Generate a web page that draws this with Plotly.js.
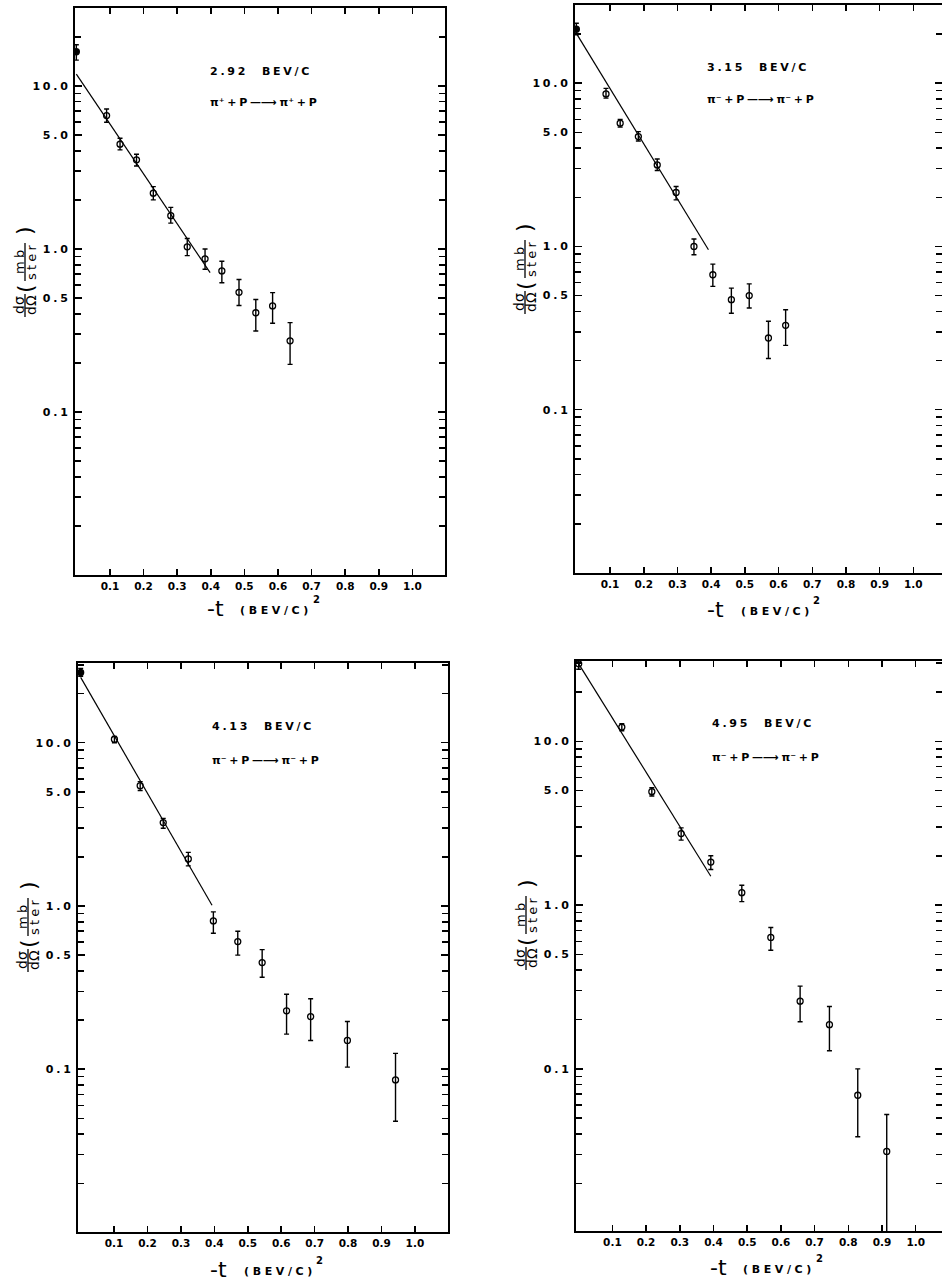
<!DOCTYPE html>
<html>
<head>
<meta charset="utf-8">
<script src="https://cdn.plot.ly/plotly-3.0.1.min.js"></script>
<style>html,body{margin:0;padding:0;background:#fff;}#chart{width:942px;height:1281px;}</style>
</head>
<body>
<div id="chart"></div>
<script>
// ---------------- DATA ----------------
// Panel 1: 2.92 BEV/C, pi+ + p -> pi+ + p
const t1  = [0, 0.090, 0.130, 0.179, 0.229, 0.281, 0.330, 0.383, 0.433, 0.484, 0.534, 0.584, 0.636];
const y1  = [16.2, 6.58, 4.39, 3.52, 2.20, 1.60, 1.03, 0.87, 0.733, 0.542, 0.406, 0.447, 0.273];
const hi1 = [17.9, 7.22, 4.78, 3.81, 2.41, 1.80, 1.16, 1.00, 0.84, 0.65, 0.49, 0.54, 0.353];
const lo1 = [14.4, 5.99, 4.05, 3.23, 2.00, 1.44, 0.91, 0.75, 0.62, 0.45, 0.314, 0.35, 0.196];
const fitT1 = [0, 0.398];
const fitY1 = [11.8, 0.716];

// Panel 2: 3.15 BEV/C, pi- + p -> pi- + p
const t2  = [0, 0.088, 0.130, 0.184, 0.240, 0.296, 0.349, 0.405, 0.460, 0.513, 0.570, 0.621];
const y2  = [21.4, 8.6, 5.69, 4.71, 3.16, 2.14, 1.00, 0.671, 0.472, 0.50, 0.275, 0.329];
const hi2 = [23.3, 9.3, 6.0, 5.05, 3.43, 2.33, 1.11, 0.78, 0.556, 0.59, 0.348, 0.41];
const lo2 = [19.8, 8.1, 5.38, 4.43, 2.92, 1.93, 0.89, 0.57, 0.39, 0.42, 0.206, 0.248];
const fitT2 = [0, 0.392];
const fitY2 = [20.2, 0.955];

// Panel 3: 4.13 BEV/C, pi- + p -> pi- + p
const t3  = [0, 0.101, 0.178, 0.247, 0.322, 0.397, 0.470, 0.543, 0.616, 0.688, 0.798, 0.942];
const y3  = [26.9, 10.5, 5.45, 3.24, 1.94, 0.81, 0.605, 0.45, 0.228, 0.21, 0.15, 0.086];
const hi3 = [28.5, 10.9, 5.77, 3.44, 2.13, 0.92, 0.70, 0.54, 0.288, 0.27, 0.196, 0.125];
const lo3 = [25.5, 9.99, 5.09, 2.99, 1.76, 0.68, 0.50, 0.366, 0.164, 0.15, 0.103, 0.048];
const fitT3 = [0, 0.393];
const fitY3 = [25.1, 1.01];

// Panel 4: 4.95 BEV/C, pi- + p -> pi- + p
const t4  = [0, 0.128, 0.217, 0.304, 0.392, 0.484, 0.570, 0.657, 0.744, 0.828, 0.914];
const y4  = [29.7, 12.2, 4.92, 2.73, 1.83, 1.19, 0.634, 0.259, 0.186, 0.069, 0.0313];
const hi4 = [32.9, 12.8, 5.2, 2.96, 2.0, 1.32, 0.73, 0.32, 0.24, 0.10, 0.0526];
const lo4 = [27.5, 11.6, 4.63, 2.49, 1.65, 1.05, 0.53, 0.194, 0.129, 0.0385, 0.005];
const fitT4 = [0, 0.392];
const fitY4 = [29.7, 1.50];

const momenta   = ["2.92", "3.15", "4.13", "4.95"];
const reactions = [["⁺", "⁺"], ["⁻", "⁻"], ["⁻", "⁻"], ["⁻", "⁻"]];

const xTickVals = [0.1, 0.2, 0.3, 0.4, 0.5, 0.6, 0.7, 0.8, 0.9, 1.0];
const xTickText = ["0.1", "0.2", "0.3", "0.4", "0.5", "0.6", "0.7", "0.8", "0.9", "1.0"];
const yLabelVals = [0.1, 0.5, 1, 5, 10];
const yLabelText = ["0.1", "0.5", "1.0", "5.0", "10.0"];
const yMinorMultipliers = [1, 2, 3, 4, 5, 6, 7, 8, 9];
const yDecades = [0.01, 0.1, 1, 10];

// ---------------- LAYOUT GEOMETRY ----------------
const W = 942, H = 1281;
const px = x => x / W;
const py = y => 1 - y / H;
const panels = [
  {left: 75,  right: 445, top: 8,   bottom: 575,  xr: [-0.004, 1.097], yr: [-2.0, 1.478], filled: true,  tdy: 34},
  {left: 575, right: 942, top: 5,   bottom: 573,  xr: [-0.004, 1.085], yr: [-2.0, 1.479], filled: true,  tdy: 37},
  {left: 78,  right: 448, top: 663, bottom: 1232, xr: [-0.008, 1.099], yr: [-1.997, 1.488], filled: true, tdy: 38},
  {left: 576, right: 942, top: 661, bottom: 1231, xr: [-0.008, 1.078], yr: [-1.99, 1.49], filled: false, tdy: 37}
];
const labelPos = [[208, 72, 103], [705, 67, 100], [210, 726, 760], [710, 723, 757]];
const sets = [
  {t: t1, y: y1, hi: hi1, lo: lo1, ft: fitT1, fy: fitY1},
  {t: t2, y: y2, hi: hi2, lo: lo2, ft: fitT2, fy: fitY2},
  {t: t3, y: y3, hi: hi3, lo: lo3, ft: fitT3, fy: fitY3},
  {t: t4, y: y4, hi: hi4, lo: lo4, ft: fitT4, fy: fitY4}
];

const SP = '\u2005';
const spaced = (s, sp) => s.split('').join(sp || SP);
const FONT = 'DejaVu Sans';
const BOLD = size => ({family: FONT, size: size, weight: 700, color: '#000'});

// minor (unlabelled) y ticks: every integer multiple within each decade
const yMinorVals = [];
yDecades.forEach(d => yMinorMultipliers.forEach(m => {
  const v = +(d * m).toPrecision(3);
  if (v <= 30 && !yLabelVals.some(u => Math.abs(u - v) < 1e-9)) yMinorVals.push(v);
}));

const data = [];
const layout = {
  width: W, height: H,
  margin: {l: 0, r: 0, t: 0, b: 0},
  paper_bgcolor: '#fff', plot_bgcolor: '#fff',
  showlegend: false,
  font: {family: FONT, color: '#000', size: 11},
  annotations: [], shapes: []
};

const ann = (x, y, txt, size, opts) => layout.annotations.push(Object.assign({
  xref: 'paper', yref: 'paper', x: px(x), y: py(y), xanchor: 'center', yanchor: 'middle',
  text: txt, showarrow: false, font: {family: FONT, size: size, color: '#000'}
}, opts || {}));

panels.forEach((p, i) => {
  const n = i + 1;
  const xa = n === 1 ? 'x' : 'x' + n;
  const ya = n === 1 ? 'y' : 'y' + n;
  const s = sets[i];

  layout[n === 1 ? 'xaxis' : 'xaxis' + n] = {
    domain: [px(p.left), px(p.right)], anchor: ya, range: p.xr,
    showgrid: false, zeroline: false, showline: true, linecolor: '#000', linewidth: 2, mirror: 'ticks',
    ticks: 'inside', ticklen: 6, tickwidth: 1.5, tickcolor: '#000',
    tickmode: 'array', tickvals: xTickVals, ticktext: xTickText,
    tickfont: BOLD(10.5),
    ticklabelstandoff: 0
  };
  layout[n === 1 ? 'yaxis' : 'yaxis' + n] = {
    domain: [py(p.bottom), py(p.top)], anchor: xa, type: 'log', range: p.yr,
    showgrid: false, zeroline: false, showline: true, linecolor: '#000', linewidth: 2, mirror: 'ticks',
    ticks: 'inside', ticklen: 7, tickwidth: 1.5, tickcolor: '#000',
    tickmode: 'array', tickvals: yLabelVals, ticktext: yLabelText.map(t => spaced(t)),
    tickfont: BOLD(11),
    ticklabelstandoff: 3,
    minor: {tickmode: 'array', tickvals: yMinorVals, ticks: 'inside', ticklen: 6, tickwidth: 1.5, tickcolor: '#000', showgrid: false}
  };

  // fit line
  data.push({
    type: 'scatter', mode: 'lines', x: s.ft, y: s.fy, xaxis: xa, yaxis: ya,
    line: {color: '#000', width: 1.2}, hoverinfo: 'skip'
  });
  // data points
  data.push({
    type: 'scatter', mode: 'markers', x: s.t, y: s.y, xaxis: xa, yaxis: ya,
    marker: {
      size: 6, color: '#000',
      symbol: s.t.map((v, k) => (k === 0 && p.filled) ? 'circle' : 'circle-open'),
      line: {color: '#000', width: 1.3}
    },
    error_y: {
      type: 'data', symmetric: false,
      array: s.hi.map((h, k) => h - s.y[k]),
      arrayminus: s.lo.map((l, k) => s.y[k] - l),
      color: '#000', thickness: 1.4, width: 2.5
    }
  });

  // energy & reaction labels
  const [lx, ly1, ly2] = labelPos[i];
  const sg = reactions[i];
  ann(lx, ly1, spaced(momenta[i]) + '\u2003\u2002' + spaced('BEV/C'), 11, {xanchor: 'left', font: BOLD(11)});
  ann(lx, ly2, 'π' + sg[0] + SP + '+' + SP + 'P' + SP + '—⟶' + SP + 'π' + sg[1] + SP + '+' + SP + 'P', 11,
      {xanchor: 'left', font: BOLD(11)});

  // x-axis title: -t (BEV/C)^2
  const cx = p.left + (0.55 - p.xr[0]) * (p.right - p.left) / (p.xr[1] - p.xr[0]);
  ann(cx - 46, p.bottom + p.tdy - 1, '-t', 22);
  ann(cx + 13, p.bottom + p.tdy + 1, spaced('(BEV/C)', '\u2004'), 11, {font: BOLD(11)});
  ann(cx + 55, p.bottom + p.tdy - 10, '2', 10, {font: BOLD(10)});

  // y-axis title: d(sigma)/d(Omega) (mb/ster), rotated
  const L = p.left, T = p.top;
  const rot = (x, y, txt, size) => ann(x, y, txt, size, {textangle: -90});
  rot(L - 56, T + 297, 'dσ', 14);
  rot(L - 44, T + 297, 'dΩ', 14);
  rot(L - 56, T + 254, spaced('mb'), 13);
  rot(L - 44, T + 254, spaced('ster'), 13);
  rot(L - 50, T + 281, '(', 22);
  rot(L - 50, T + 223, ')', 22);
  const vline = (x, yA, yB) => layout.shapes.push({
    type: 'line', xref: 'paper', yref: 'paper', x0: px(x), x1: px(x), y0: py(yA), y1: py(yB),
    line: {color: '#000', width: 1.3}
  });
  vline(L - 50, T + 286, T + 309);
  vline(L - 50, T + 235, T + 273);
});

Plotly.newPlot('chart', data, layout, {staticPlot: true, displayModeBar: false});
</script>
</body>
</html>
